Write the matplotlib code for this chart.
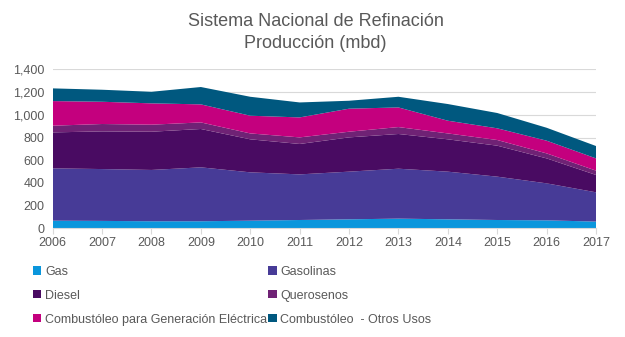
import numpy as np
import matplotlib
matplotlib.use("Agg")
import matplotlib.pyplot as plt
import matplotlib.patches as patches

plt.rcParams["font.family"] = ["Liberation Sans", "DejaVu Sans"]

years = [2006, 2007, 2008, 2009, 2010, 2011, 2012, 2013, 2014, 2015, 2016, 2017]

gas = [67, 65, 62, 62, 67, 73, 79, 85, 79, 73, 70, 59]
gasolinas = [461, 457, 452, 475, 426, 402, 420, 440, 420, 382, 326, 258]
diesel = [317, 332, 337, 338, 291, 268, 302, 306, 285, 273, 220, 153]
querosenos = [59, 65, 62, 58, 52, 58, 50, 61, 52, 50, 44, 38]
comb_gen = [217, 196, 188, 159, 156, 176, 203, 173, 112, 103, 112, 108]
comb_otros = [112, 106, 102, 153, 167, 132, 70, 94, 147, 135, 114, 109]

labels = [
    "Gas",
    "Gasolinas",
    "Diesel",
    "Querosenos",
    "Combustóleo para Generación Eléctrica",
    "Combustóleo  - Otros Usos",
]
colors = ["#0A96DC", "#473B97", "#490B62", "#6F2275", "#C4007E", "#00587F"]

text_color = "#595959"

fig = plt.figure(figsize=(6.25, 3.37), dpi=100)
ax = fig.add_axes((0.0843, 0.3226, 0.8693, 0.4714))

series = [gas, gasolinas, diesel, querosenos, comb_gen, comb_otros]
ax.stackplot(years, *series, colors=colors, edgecolor="none", zorder=2)

ax.set_xlim(years[0], years[-1])
ax.set_ylim(0, 1400)
ax.set_yticks(np.arange(0, 1401, 200))
ax.set_yticklabels([f"{v:,}" for v in range(0, 1401, 200)])
ax.set_xticks(years)
ax.grid(axis="y", color="#D9D9D9", linewidth=0.8, zorder=0)
ax.set_axisbelow(True)
for side in ["top", "right", "left"]:
    ax.spines[side].set_visible(False)
ax.spines["bottom"].set_color("#D9D9D9")
ax.tick_params(axis="y", length=0, labelsize=9, labelcolor=text_color, pad=6)
ax.tick_params(axis="x", length=4, color="#D9D9D9", labelsize=9,
               labelcolor=text_color, pad=2)

fig.text(0.505, 0.935, "Sistema Nacional de Refinación", ha="center",
         va="center", fontsize=13, color=text_color)
fig.text(0.505, 0.872, "Producción (mbd)", ha="center", va="center",
         fontsize=13, color=text_color)

# legend reads row by row, matplotlib fills columns first
order = [0, 2, 4, 1, 3, 5]
handles = [patches.Patch(facecolor=colors[i], edgecolor="none") for i in order]
fig.legend(
    handles,
    [labels[i] for i in order],
    ncol=2,
    loc="upper left",
    bbox_to_anchor=(0.045, 0.226),
    frameon=False,
    fontsize=9,
    labelcolor=text_color,
    handlelength=0.65,
    handleheight=0.65,
    handletextpad=0.3,
    columnspacing=0.1,
    labelspacing=0.95,
    borderaxespad=0,
)

fig.savefig("out.png", dpi=100)
